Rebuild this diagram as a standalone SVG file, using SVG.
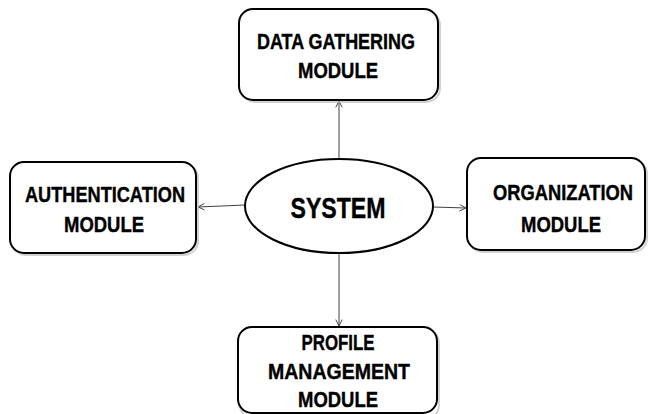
<svg xmlns="http://www.w3.org/2000/svg" width="648" height="414" viewBox="0 0 648 414">
<defs>
<style>
.box{fill:#fff;stroke:#000;stroke-width:2}
.shadow{fill:none;stroke:#bdbdbd;stroke-width:2;opacity:0.7}
.lbl{font-family:"Liberation Sans",Arial,sans-serif;font-weight:bold;font-size:22px;fill:#000;stroke:#000;stroke-width:0.4;text-anchor:middle}
.sys{font-family:"Liberation Sans",Arial,sans-serif;font-weight:bold;font-size:30px;fill:#000;stroke:#000;stroke-width:0.4;text-anchor:middle}
.conn{stroke:#404040;stroke-width:1;fill:none;marker-end:url(#arr)}
</style>
<marker id="arr" viewBox="0 0 10 10" refX="9" refY="5" markerWidth="8" markerHeight="8" markerUnits="userSpaceOnUse" orient="auto">
<path d="M1,1 L9,5 L1,9" fill="none" stroke="#404040" stroke-width="1.2"/>
</marker>
</defs>
<rect width="648" height="414" fill="#fff"/>
<g id="connectors">
<line class="conn" x1="339" y1="158" x2="339" y2="101"/>
<line class="conn" x1="245" y1="205" x2="198" y2="207"/>
<line class="conn" x1="433" y1="207" x2="466" y2="208"/>
<line class="conn" x1="339" y1="254" x2="339" y2="326"/>
</g>
<g id="system">
<ellipse class="box" cx="339" cy="206" rx="94" ry="47"/>
<text class="sys" x="338" y="218" textLength="95" lengthAdjust="spacingAndGlyphs">SYSTEM</text>
</g>
<g id="data-gathering">
<rect class="shadow" x="241" y="11" width="199" height="91" rx="14"/>
<rect class="box" x="239" y="9" width="199" height="91" rx="14"/>
<text class="lbl" x="336" y="49" textLength="158" lengthAdjust="spacingAndGlyphs">DATA GATHERING</text>
<text class="lbl" x="338" y="78" textLength="80" lengthAdjust="spacingAndGlyphs">MODULE</text>
</g>
<g id="authentication">
<rect class="shadow" x="12" y="164" width="186" height="91" rx="14"/>
<rect class="box" x="10" y="162" width="186" height="91" rx="14"/>
<text class="lbl" x="105" y="202" textLength="160" lengthAdjust="spacingAndGlyphs">AUTHENTICATION</text>
<text class="lbl" x="104" y="232" textLength="80" lengthAdjust="spacingAndGlyphs">MODULE</text>
</g>
<g id="organization">
<rect class="shadow" x="469" y="160" width="178" height="92" rx="14"/>
<rect class="box" x="467" y="158" width="178" height="92" rx="14"/>
<text class="lbl" x="563" y="200" textLength="140" lengthAdjust="spacingAndGlyphs">ORGANIZATION</text>
<text class="lbl" x="561" y="232" textLength="80" lengthAdjust="spacingAndGlyphs">MODULE</text>
</g>
<g id="profile-management">
<rect class="shadow" x="240" y="329" width="199" height="90" rx="14"/>
<rect class="box" x="238" y="327" width="199" height="86" rx="14"/>
<text class="lbl" x="338" y="350" textLength="73" lengthAdjust="spacingAndGlyphs">PROFILE</text>
<text class="lbl" x="339" y="379" textLength="142" lengthAdjust="spacingAndGlyphs">MANAGEMENT</text>
<text class="lbl" x="338" y="407" textLength="80" lengthAdjust="spacingAndGlyphs">MODULE</text>
</g>
</svg>
